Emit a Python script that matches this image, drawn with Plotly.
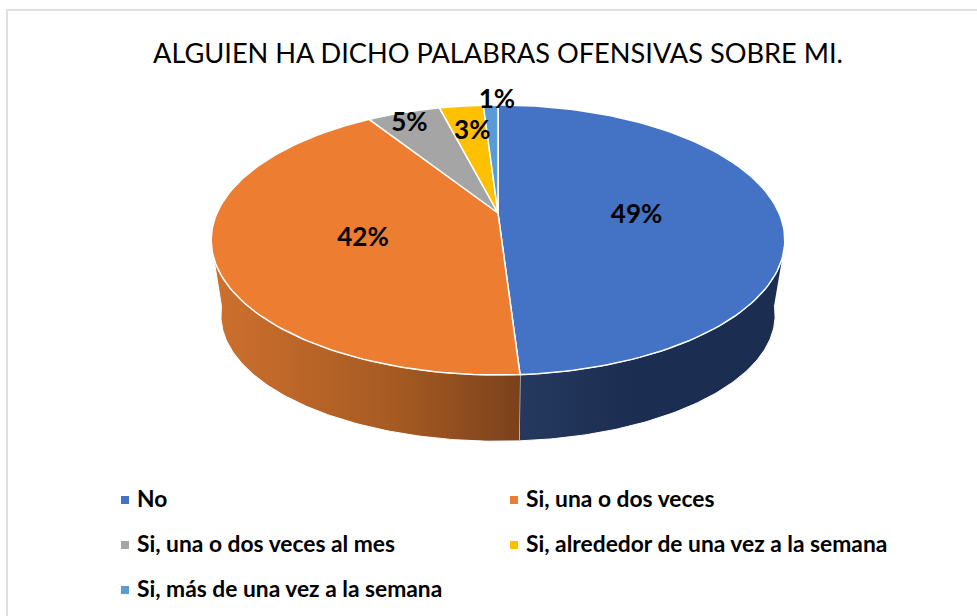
import numpy as np
import plotly.graph_objects as go

# chart data
title_text = "ALGUIEN HA DICHO PALABRAS OFENSIVAS SOBRE MI."
categories = ["No", "Si, una o dos veces", "Si, una o dos veces al mes",
              "Si, alrededor de una vez a la semana", "Si, más de una vez a la semana"]
values = [49, 42, 5, 3, 1]
colors = ["#4472C4", "#ED7D31", "#A5A5A5", "#FFC000", "#5B9BD5"]

# how far out along the radius each percent label sits, plus a nudge for the small slices
label_radius = [0.495, 0.49, 0.93, 0.78, 1.11]
label_dx = [0, 0, 0, 4, 7]
LABEL_DY = 6

# legend slots, in page pixels
legend_x = [125, 514, 125, 514, 125]
legend_y = [500, 500, 545, 545, 590]
LEGEND_TEXT_DX = 12
LEGEND_TEXT_DY = 1

# perspective of the pie: unit disc -> page pixels
CX = 498
TILT = 0.2
TOP_Y, TOP_A, TOP_B = 213, 281, 129.6
BOT_Y, BOT_A, BOT_B = 290, 271.5, 121


def project(theta_deg, r=1.0, y0=TOP_Y, a=TOP_A, b=TOP_B):
    """theta is clockwise from twelve o'clock, r is the fraction of the radius"""
    t = np.radians(theta_deg)
    u, v = r * np.sin(t), r * np.cos(t)
    w = 1 + TILT * v
    return CX + a * u / w, y0 - b * v / w


def top_rim(start, stop):
    return project(np.linspace(start, stop, 120))


def bottom_rim(start, stop):
    return project(np.linspace(start, stop, 120), y0=BOT_Y, a=BOT_A, b=BOT_B)


def wall_trace(top_from, top_to, bot_from, bot_to, stops):
    tx, ty = top_rim(top_from, top_to)
    bx, by = bottom_rim(bot_from, bot_to)
    return go.Scatter(
        x=np.concatenate([tx, bx]), y=np.concatenate([ty, by]),
        mode="lines", fill="toself", showlegend=False, hoverinfo="skip",
        line=dict(color="white", width=1),
        fillgradient=dict(type="horizontal", colorscale=stops),
    )


edges = np.cumsum([0] + values) * 3.6

fig = go.Figure()

# side of the pie: only the two big slices reach the front
fig.add_trace(wall_trace(109, edges[1], edges[1], 97,
                         [[0, "#25395F"], [0.45, "#1B2D50"], [1, "#1B2D50"]]))
fig.add_trace(wall_trace(edges[1], 251, 263, edges[1],
                         [[0, "#CE702E"], [0.6, "#A55A22"], [1, "#7B411B"]]))

# top of the pie
for i, name in enumerate(categories):
    rx, ry = top_rim(edges[i], edges[i + 1])
    ax, ay = project(0, 0)
    fig.add_trace(go.Scatter(
        x=np.concatenate([[ax], rx, [ax]]), y=np.concatenate([[ay], ry, [ay]]),
        mode="lines", fill="toself", fillcolor=colors[i], name=name,
        line=dict(color="white", width=1.5), showlegend=False,
        hovertemplate=f"{name}: {values[i]}%<extra></extra>",
    ))

# percent labels
mid = (edges[:-1] + edges[1:]) / 2
lx, ly = project(mid, np.array(label_radius))
fig.add_trace(go.Scatter(
    x=lx + np.array(label_dx), y=ly + LABEL_DY, mode="text",
    text=[f"{v}%" for v in values], showlegend=False,
    textfont=dict(family="Lato", size=26, color="black", weight="bold"), hoverinfo="skip",
))

# legend keys
for i, name in enumerate(categories):
    fig.add_trace(go.Scatter(
        x=[legend_x[i]], y=[legend_y[i]], mode="markers", showlegend=False, hoverinfo="skip",
        marker=dict(symbol="square", size=8, color=colors[i]),
    ))
    fig.add_trace(go.Scatter(
        x=[legend_x[i] + LEGEND_TEXT_DX], y=[legend_y[i] + LEGEND_TEXT_DY], mode="text", text=[name],
        textposition="middle right", showlegend=False, hoverinfo="skip",
        textfont=dict(family="Lato", size=22.8, color="black", weight="bold"),
    ))

fig.update_layout(
    width=977, height=616,
    margin=dict(l=0, r=0, t=0, b=0),
    paper_bgcolor="white", plot_bgcolor="white",
    showlegend=False,
    title=dict(text=title_text, x=498 / 977, y=1 - 53 / 616, xanchor="center", yanchor="middle",
               font=dict(family="Lato", size=27.2, color="black")),
    xaxis=dict(range=[0, 977], visible=False, fixedrange=True),
    yaxis=dict(range=[616, 0], visible=False, fixedrange=True),
    shapes=[
        dict(type="line", x0=6, x1=977, y0=10, y1=10, line=dict(color="#E0E0E0", width=2)),
        dict(type="line", x0=7, x1=7, y0=9, y1=616, line=dict(color="#E0E0E0", width=2)),
    ],
)

fig.write_html("out.html", config={"displayModeBar": False},
               post_script="document.body.style.margin='0';")
